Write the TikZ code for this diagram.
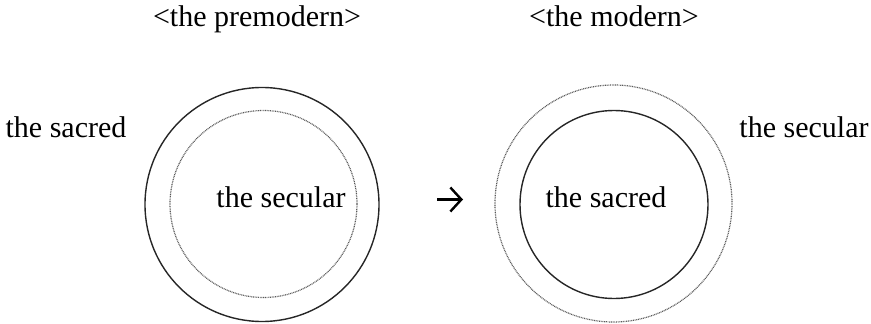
\documentclass[tikz,border=0pt]{standalone}
\usepackage{fontspec}
\setmainfont{Liberation Serif}
\usetikzlibrary{arrows.meta}
\begin{document}
\begin{tikzpicture}[x=1pt,y=-1pt,
  lbl/.style={inner sep=0pt,anchor=base,font=\fontsize{30}{36}\selectfont},
  solidring/.style={circle,draw=black!85,line width=1.4pt,inner sep=0pt},
  dotring/.style={circle,draw=black!65,line width=1.2pt,dash pattern=on 0.9pt off 0.8pt,inner sep=0pt}]
\useasboundingbox (0,0) rectangle (871,324);
% left diagram
\node[solidring,minimum size=234pt] (louter) at (262,204.5) {};
\node[dotring,minimum size=187pt] (linner) at (263.5,204) {};
% right diagram
\node[dotring,minimum size=237pt] (router) at (613.5,203.5) {};
\node[solidring,minimum size=188pt] (rinner) at (614,204.5) {};
% labels
\node[lbl] (hpre) at (257,27) {<the premodern>};
\node[lbl] (hmod) at (614,27) {<the modern>};
\node[lbl] (lsacred) at (66,137) {the sacred};
\node[lbl] (lsecular) at (281,207) {the secular};
\node[lbl] (rsacred) at (606,207) {the sacred};
\node[lbl] (rsecular) at (804,137) {the secular};
% arrow
\coordinate (astart) at (437,199.5);
\coordinate (aend) at (463,199.5);
\draw[line width=3.2pt,-{Straight Barb[length=11pt,width=24pt,line width=2.4pt]}] (astart) -- (aend);
\end{tikzpicture}
\end{document}
